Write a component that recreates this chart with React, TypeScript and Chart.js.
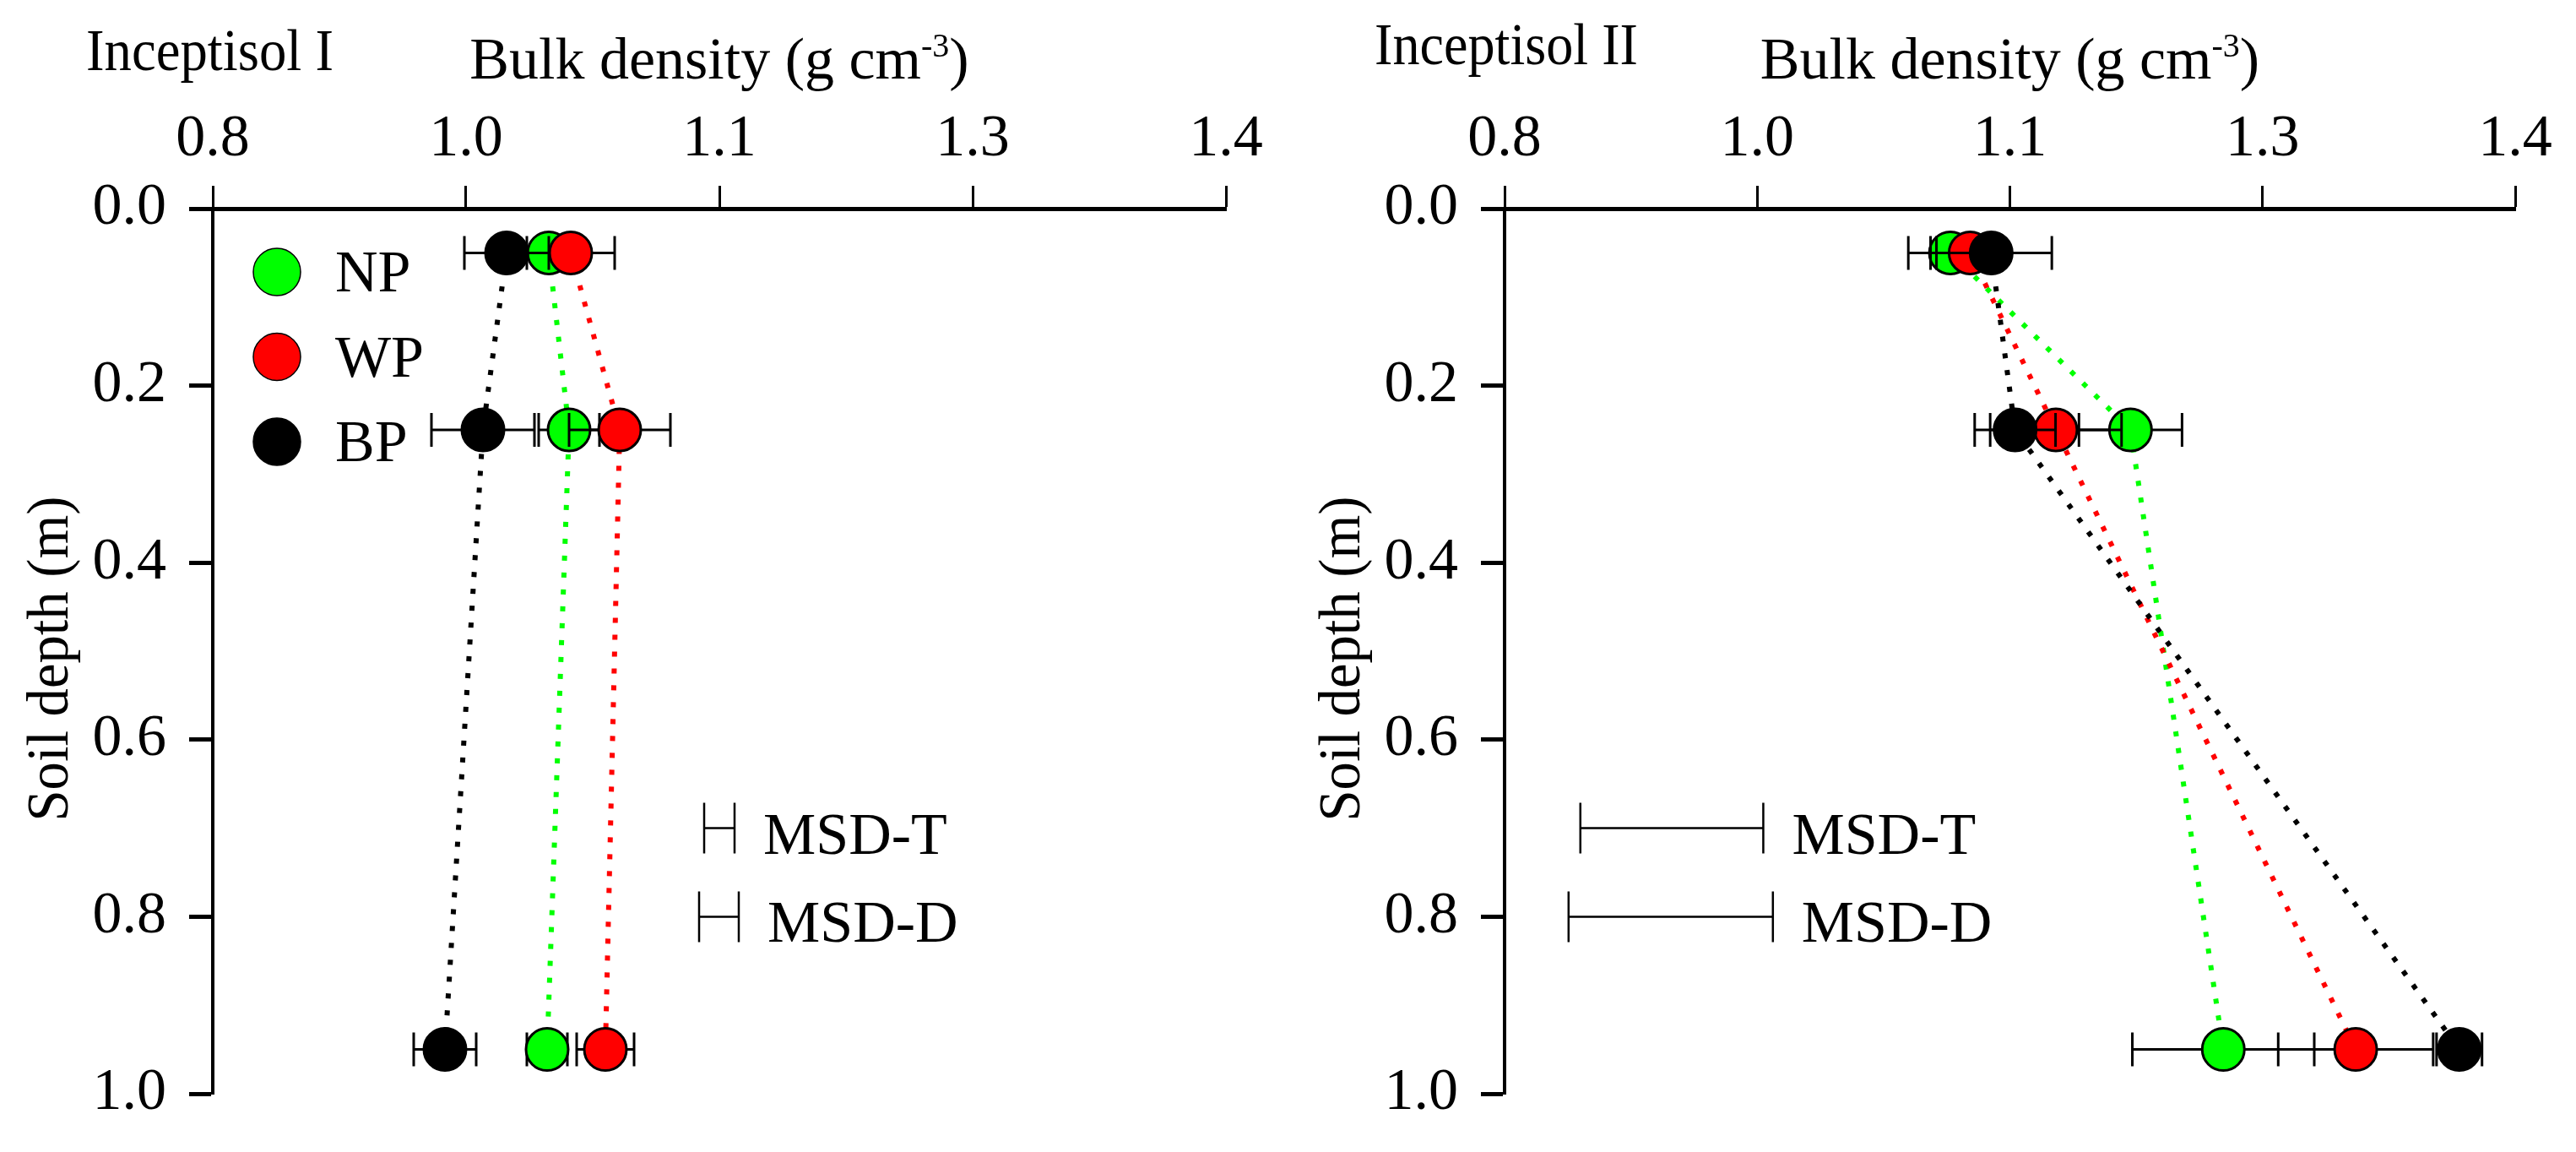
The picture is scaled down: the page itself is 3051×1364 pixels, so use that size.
import React, { useEffect, useRef } from "react";
import { Chart, registerables } from "chart.js";

Chart.register(...registerables);

// sampling depths (m)
const depths = [0.05, 0.25, 0.95];
const xTickLabels = ["0.8", "1.0", "1.1", "1.3", "1.4"];
const yTickLabels = ["0.0", "0.2", "0.4", "0.6", "0.8", "1.0"];
const seriesNames = ["NP", "WP", "BP"];
const seriesColors = ["#00ff00", "#ff0000", "#000000"];
const msdNames = ["MSD-T", "MSD-D"];
const msdDepths = [0.7, 0.8];

// Inceptisol I
const npI = [0.999, 1.011, 0.998];
const npIErr = [0.02, 0.018, 0.012];
const wpI = [1.012, 1.041, 1.0325];
const wpIErr = [0.026, 0.03, 0.017];
const bpI = [0.974, 0.96, 0.9375];
const bpIErr = [0.025, 0.0305, 0.0185];
const msdIStart = [1.091, 1.088];
const msdIValues = [0.018, 0.0235];

// Inceptisol II
const npII = [1.0647, 1.1716, 1.2267];
const npIIErr = [0.025, 0.0306, 0.054];
const wpII = [1.0764, 1.1273, 1.3053];
const wpIIErr = [0.02, 0.039, 0.046];
const bpII = [1.0889, 1.1031, 1.3668];
const bpIIErr = [0.036, 0.024, 0.0135];
const msdIIStart = [0.845, 0.838];
const msdIIValues = [0.1086, 0.1213];

const SERIF = "'Liberation Serif', 'Times New Roman', serif";

type PanelProps = {
  title: string;
  values: number[][];
  errors: number[][];
  msdStart: number[];
  msdValues: number[];
  showLegend: boolean;
  width: number;
  axisLeft: number;
  axisRight: number;
  titleDx: number;
  titleBaseline: number;
  titleWidth: number;
};

const Panel: React.FC<PanelProps> = (p) => {
  const chartRef = useRef<HTMLCanvasElement>(null);

  useEffect(() => {
    if (!chartRef.current) return;
    const ctx = chartRef.current.getContext("2d");
    if (!ctx) return;

    const decor = {
      id: "decor",
      beforeDatasetDraw(chart: any, args: any) {
        // error bars drawn just under each series' markers
        const c = chart.ctx;
        const xs = chart.scales.x;
        const ys = chart.scales.y;
        const vals = p.values[args.index];
        const errs = p.errors[args.index];
        c.save();
        c.strokeStyle = "#000";
        c.lineWidth = 3;
        vals.forEach((v, i) => {
          const y = ys.getPixelForValue(depths[i]);
          const x0 = xs.getPixelForValue(v - errs[i]);
          const x1 = xs.getPixelForValue(v + errs[i]);
          c.beginPath();
          c.moveTo(x0, y);
          c.lineTo(x1, y);
          c.moveTo(x0, y - 20);
          c.lineTo(x0, y + 20);
          c.moveTo(x1, y - 20);
          c.lineTo(x1, y + 20);
          c.stroke();
        });
        c.restore();
      },
      afterDraw(chart: any) {
        const c = chart.ctx;
        const xs = chart.scales.x;
        const ys = chart.scales.y;
        const { left, right, top } = chart.chartArea;
        c.save();
        c.fillStyle = "#000";
        c.textAlign = "left";
        c.textBaseline = "alphabetic";

        // panel title
        c.font = `70px ${SERIF}`;
        c.fillText(p.title, left + p.titleDx, p.titleBaseline, p.titleWidth);

        // x axis title with superscript
        const main = "Bulk density (g cm";
        const sup = "-3";
        const end = ")";
        c.font = `70px ${SERIF}`;
        const wMain = c.measureText(main).width;
        const wEnd = c.measureText(end).width;
        c.font = `40px ${SERIF}`;
        const wSup = c.measureText(sup).width;
        let tx = (left + right) / 2 - (wMain + wSup + wEnd) / 2;
        c.font = `70px ${SERIF}`;
        c.fillText(main, tx, 93);
        tx += wMain;
        c.font = `40px ${SERIF}`;
        c.fillText(sup, tx, 67);
        tx += wSup;
        c.font = `70px ${SERIF}`;
        c.fillText(end, tx, 93);

        // y axis title
        c.save();
        c.translate(left - 172, 780);
        c.rotate(-Math.PI / 2);
        c.textAlign = "center";
        c.font = `70px ${SERIF}`;
        c.fillText("Soil depth (m)", 0, 0, 385);
        c.restore();

        // legend
        if (p.showLegend) {
          seriesNames.forEach((name, i) => {
            const cy = top + 75 + i * 100.5;
            c.beginPath();
            c.arc(left + 76, cy, 28, 0, Math.PI * 2);
            c.fillStyle = seriesColors[i];
            c.fill();
            c.lineWidth = 1.5;
            c.strokeStyle = "#000";
            c.stroke();
            c.fillStyle = "#000";
            c.font = `70px ${SERIF}`;
            c.fillText(name, left + 145, cy + 23);
          });
        }

        // MSD bars
        c.strokeStyle = "#000";
        c.lineWidth = 2.5;
        msdNames.forEach((name, j) => {
          const y = ys.getPixelForValue(msdDepths[j]);
          const x0 = xs.getPixelForValue(p.msdStart[j]);
          const x1 = xs.getPixelForValue(p.msdStart[j] + p.msdValues[j]);
          c.beginPath();
          c.moveTo(x0, y);
          c.lineTo(x1, y);
          c.moveTo(x0, y - 30);
          c.lineTo(x0, y + 30);
          c.moveTo(x1, y - 30);
          c.lineTo(x1, y + 30);
          c.stroke();
          c.font = `70px ${SERIF}`;
          c.fillText(name, x1 + 34, y + 30);
        });
        c.restore();
      },
    };

    const chart = new Chart(ctx, {
      type: "scatter",
      data: {
        datasets: seriesNames.map((name, k) => ({
          label: name,
          data: p.values[k].map((v, i) => ({ x: v, y: depths[i] })),
          showLine: true,
          borderColor: seriesColors[k],
          borderWidth: 6,
          borderDash: [6, 14],
          borderCapStyle: "butt",
          tension: 0,
          pointRadius: 25,
          pointBackgroundColor: seriesColors[k],
          pointBorderColor: "#000",
          pointBorderWidth: 3,
          order: 3 - k,
        })),
      },
      options: {
        animation: false,
        responsive: false,
        devicePixelRatio: 1,
        events: [],
        layout: { padding: { left: 0, top: 0, right: p.width - p.axisRight, bottom: 60 } },
        plugins: {
          legend: { display: false },
          tooltip: { enabled: false },
        },
        scales: {
          x: {
            type: "linear",
            position: "top",
            min: 0.8,
            max: 1.4,
            ticks: {
              stepSize: 0.15,
              autoSkip: false,
              maxRotation: 0,
              padding: 12,
              color: "#000",
              font: { family: SERIF, size: 70 },
              callback: (_v: any, i: number) => xTickLabels[i] ?? "",
            },
            grid: {
              drawOnChartArea: false,
              drawTicks: true,
              tickLength: 27,
              tickWidth: 3,
              tickColor: "#000",
            },
            border: { display: true, color: "#000", width: 5 },
            afterFit: (s: any) => {
              s.height = 247;
            },
          },
          y: {
            type: "linear",
            reverse: true,
            min: 0,
            max: 1,
            ticks: {
              stepSize: 0.2,
              autoSkip: false,
              padding: 27,
              color: "#000",
              font: { family: SERIF, size: 70 },
              callback: (v: any) => yTickLabels[Math.round(Number(v) / 0.2)] ?? "",
            },
            grid: {
              drawOnChartArea: false,
              drawTicks: true,
              tickLength: 28,
              tickWidth: 5,
              tickColor: "#000",
            },
            border: { display: true, color: "#000", width: 4 },
            afterFit: (s: any) => {
              s.width = p.axisLeft;
            },
          },
        },
      },
      plugins: [decor],
    } as any);

    return () => {
      chart.destroy();
    };
  }, []);

  return <canvas ref={chartRef} width={p.width} height={1364} style={{ display: "block" }} />;
};

const App: React.FC = () => {
  return (
    <div
      style={{
        position: "absolute",
        left: 0,
        top: 0,
        width: 3051,
        height: 1364,
        background: "#fff",
        display: "flex",
      }}
    >
      <Panel
        title="Inceptisol I"
        values={[npI, wpI, bpI]}
        errors={[npIErr, wpIErr, bpIErr]}
        msdStart={msdIStart}
        msdValues={msdIValues}
        showLegend={true}
        width={1525}
        axisLeft={252}
        axisRight={1452}
        titleDx={-150}
        titleBaseline={83}
        titleWidth={293}
      />
      <Panel
        title="Inceptisol II"
        values={[npII, wpII, bpII]}
        errors={[npIIErr, wpIIErr, bpIIErr]}
        msdStart={msdIIStart}
        msdValues={msdIIValues}
        showLegend={false}
        width={1526}
        axisLeft={257}
        axisRight={1454}
        titleDx={-154}
        titleBaseline={76}
        titleWidth={312}
      />
    </div>
  );
};

export default App;
